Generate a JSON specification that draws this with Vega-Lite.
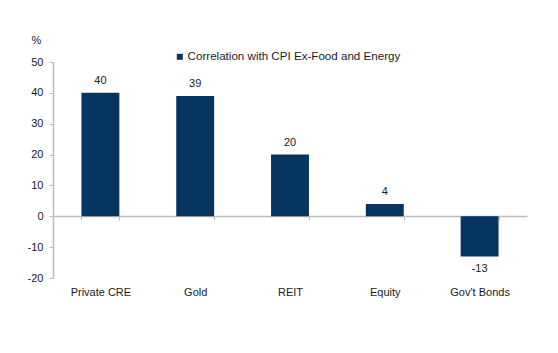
{
  "$schema": "https://vega.github.io/schema/vega-lite/v6.json",
  "autosize": "none",
  "width": 474,
  "height": 216,
  "padding": {"left": 53, "top": 62, "right": 31, "bottom": 75},
  "background": "white",
  "config": {
    "view": {"stroke": null},
    "font": "Liberation Sans",
    "axis": {"labelFont": "Liberation Sans", "titleFont": "Liberation Sans", "labelColor": "#1a1a1a", "titleColor": "#1a1a1a", "labelFontSize": 11, "domainColor": "#bdbdbd", "tickColor": "#bdbdbd", "grid": false}
  },
  "data": {"values": [
    {"asset": "Private CRE", "value": 40, "series": "Correlation with CPI Ex-Food and Energy"},
    {"asset": "Gold", "value": 39, "series": "Correlation with CPI Ex-Food and Energy"},
    {"asset": "REIT", "value": 20, "series": "Correlation with CPI Ex-Food and Energy"},
    {"asset": "Equity", "value": 4, "series": "Correlation with CPI Ex-Food and Energy"},
    {"asset": "Gov't Bonds", "value": -13, "series": "Correlation with CPI Ex-Food and Energy"}
  ]},
  "encoding": {
    "x": {"field": "asset", "type": "nominal", "sort": null,
      "scale": {"paddingInner": 0.6, "paddingOuter": 0.3},
      "axis": {"title": null, "labelAngle": 0, "offset": -62, "tickBand": "extent", "tickSize": 4, "labelPadding": 66, "domainWidth": 1.5}},
    "y": {"field": "value", "type": "quantitative",
      "scale": {"domain": [-20, 50], "nice": false},
      "axis": {"values": [-20, -10, 0, 10, 20, 30, 40, 50], "labelExpr": "'' + datum.value", "title": "%", "titleAngle": 0, "titleX": -17, "titleY": -22, "titleAlign": "center", "titleBaseline": "middle", "titleFontSize": 11, "titleFontWeight": "normal", "tickSize": 4, "labelPadding": 6, "domainWidth": 1.5}}
  },
  "layer": [
    {
      "mark": {"type": "bar"},
      "encoding": {
        "color": {"field": "series", "type": "nominal", "scale": {"range": ["#06355f"]},
          "legend": {"title": null, "orient": "none", "legendX": 121, "legendY": -11, "symbolType": "square", "symbolSize": 36, "labelFontSize": 11.6, "labelFont": "Liberation Sans", "labelColor": "#1a1a1a", "labelOffset": 2, "labelLimit": 400}}
      }
    },
    {
      "transform": [{"filter": "datum.value >= 0"}],
      "mark": {"type": "text", "baseline": "middle", "dy": -12, "fontSize": 11, "color": "#1a1a1a", "font": "Liberation Sans"},
      "encoding": {"text": {"field": "value", "type": "nominal"}}
    },
    {
      "transform": [{"filter": "datum.value < 0"}],
      "mark": {"type": "text", "baseline": "middle", "dy": 13, "fontSize": 11, "color": "#1a1a1a", "font": "Liberation Sans"},
      "encoding": {"text": {"field": "value", "type": "nominal"}}
    }
  ]
}
